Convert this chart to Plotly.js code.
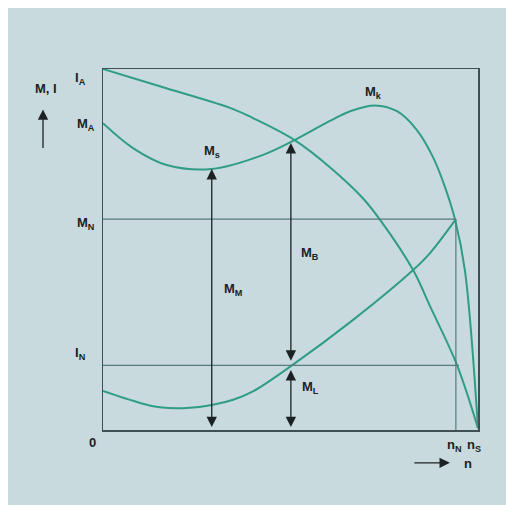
<!DOCTYPE html>
<html><head><meta charset="utf-8">
<script src="https://cdn.plot.ly/plotly-3.0.1.min.js"></script>
<style>
html,body{margin:0;padding:0;background:#ffffff;width:506px;height:505px;overflow:hidden;}
#chart{position:absolute;left:8px;top:8px;width:498px;height:497px;}
</style></head><body>
<div id="chart"></div>
<script>
// Speed n (0 = standstill, 1 = synchronous speed n_S), torque/current in relative units (I_A = 100)
const torqueN = [0, 0.08, 0.17, 0.29, 0.427, 0.511, 0.605, 0.659, 0.725, 0.784, 0.837, 0.880, 0.912, 0.939, 0.965, 1.0];
const torqueM = [85.0, 78.1, 73.4, 72.3, 76.2, 80.3, 85.6, 88.3, 89.9, 88.3, 83.1, 75.6, 67.3, 58.2, 44.3, 0.5];
const currentN = [0, 0.171, 0.347, 0.40, 0.511, 0.605, 0.693, 0.739, 0.827, 0.872, 0.944, 1.0];
const currentI = [100, 94.6, 88.9, 86.4, 80.3, 72.8, 64.2, 58.2, 44.3, 34.3, 18.0, 0.5];
const loadN = [0, 0.099, 0.152, 0.224, 0.293, 0.347, 0.40, 0.501, 0.667, 0.827, 0.872, 0.941];
const loadM = [10.8, 7.5, 6.3, 6.1, 7.0, 8.4, 10.7, 17.7, 30.5, 44.3, 49.0, 58.4];
const levelNames = ["I_A", "M_A", "M_N", "I_N"];
const levelValues = [100, 85.0, 58.4, 17.9];
const nN = 0.941, nS = 1.0;
const pointMs = [0.29, 72.3];
const pointMB = [0.501, 79.5];
const pointIN = [0.501, 17.7];

const green = '#2f9d85';
const thin = '#557b7c';
const ink = '#1c2223';
const bg = '#c9dade';

const spl = {color: green, width: 2, shape: 'spline', smoothing: 1};
const traces = [
  {x: torqueN, y: torqueM, mode: 'lines', line: spl, hoverinfo: 'skip'},
  {x: currentN, y: currentI, mode: 'lines', line: spl, hoverinfo: 'skip'},
  {x: loadN, y: loadM, mode: 'lines', line: spl, hoverinfo: 'skip'}
];

const shapes = [
  {type: 'line', xref: 'x', yref: 'y', x0: 0, x1: nN, y0: levelValues[2], y1: levelValues[2], line: {color: thin, width: 1.2}},
  {type: 'line', xref: 'x', yref: 'y', x0: 0, x1: nN + 0.008, y0: levelValues[3], y1: levelValues[3], line: {color: thin, width: 1.2}},
  {type: 'line', xref: 'x', yref: 'y', x0: nN, x1: nN, y0: 0, y1: levelValues[2], line: {color: thin, width: 1.2}}
];

const f = {family: 'Liberation Sans, Arial, sans-serif', size: 13, color: ink};
// labels in paper coordinates (x: fraction of n_S, y: fraction of I_A)
function lab(x, y, t) {
  return {x: x, y: y / 100, xref: 'paper', yref: 'paper', text: t, showarrow: false, font: f, xanchor: 'center', yanchor: 'middle'};
}
function arr(x0, y0, x1, y1, both) {
  return {x: x1, y: y1, ax: x0, ay: y0, xref: 'x', yref: 'y', axref: 'x', ayref: 'y', text: '',
    showarrow: true, arrowhead: 2, arrowsize: 1.6, arrowwidth: 1.3, arrowcolor: ink,
    arrowside: both ? 'end+start' : 'end', startarrowhead: 2, startarrowsize: 1.6, standoff: 0, startstandoff: 0};
}
function parr(x, y, dx, dy) {
  return {x: x, y: y / 100, xref: 'paper', yref: 'paper', ax: dx, ay: dy, text: '',
    showarrow: true, arrowhead: 2, arrowsize: 1.6, arrowwidth: 1.3, arrowcolor: ink, standoff: 0};
}
const annotations = [
  lab(-0.061, 97.5, '<b>I<sub>A</sub></b>'),
  lab(-0.152, 94.5, '<b>M, I</b>'),
  lab(-0.046, 84.5, '<b>M<sub>A</sub></b>'),
  lab(-0.046, 57.3, '<b>M<sub>N</sub></b>'),
  lab(-0.061, 21.3, '<b>I<sub>N</sub></b>'),
  lab(-0.027, -3.6, '<b>0</b>'),
  lab(0.29, 77.2, '<b>M<sub>s</sub></b>'),
  lab(0.72, 93.4, '<b>M<sub>k</sub></b>'),
  lab(0.347, 38.8, '<b>M<sub>M</sub></b>'),
  lab(0.552, 49.0, '<b>M<sub>B</sub></b>'),
  lab(0.552, 11.9, '<b>M<sub>L</sub></b>'),
  lab(0.937, -4.2, '<b>n<sub>N</sub></b>'),
  lab(0.99, -4.2, '<b>n<sub>S</sub></b>'),
  lab(0.972, -9.3, '<b>n</b>'),
  parr(-0.16, 88.8, 0, 40),
  parr(0.925, -9.1, -37, 0),
  arr(pointMs[0], 0.4, pointMs[0], pointMs[1], true),
  arr(pointMB[0], pointIN[1] + 1.1, pointMB[0], pointMB[1], true),
  arr(pointIN[0], 0.4, pointIN[0], pointIN[1] - 1.1, true)
];

const layout = {
  width: 498, height: 497,
  margin: {l: 95, r: 28, t: 61, b: 75},
  paper_bgcolor: bg, plot_bgcolor: bg,
  showlegend: false,
  xaxis: {range: [0, nS], showgrid: false, zeroline: false, showticklabels: false, ticks: '',
    showline: true, mirror: true, linecolor: '#3f4f52', linewidth: 1.5, fixedrange: true},
  yaxis: {range: [0, 100], showgrid: false, zeroline: false, showticklabels: false, ticks: '',
    showline: true, mirror: true, linecolor: '#3f4f52', linewidth: 1.5, fixedrange: true},
  shapes: shapes,
  annotations: annotations
};
Plotly.newPlot('chart', traces, layout, {displayModeBar: false, staticPlot: true});
</script>
</body></html>
